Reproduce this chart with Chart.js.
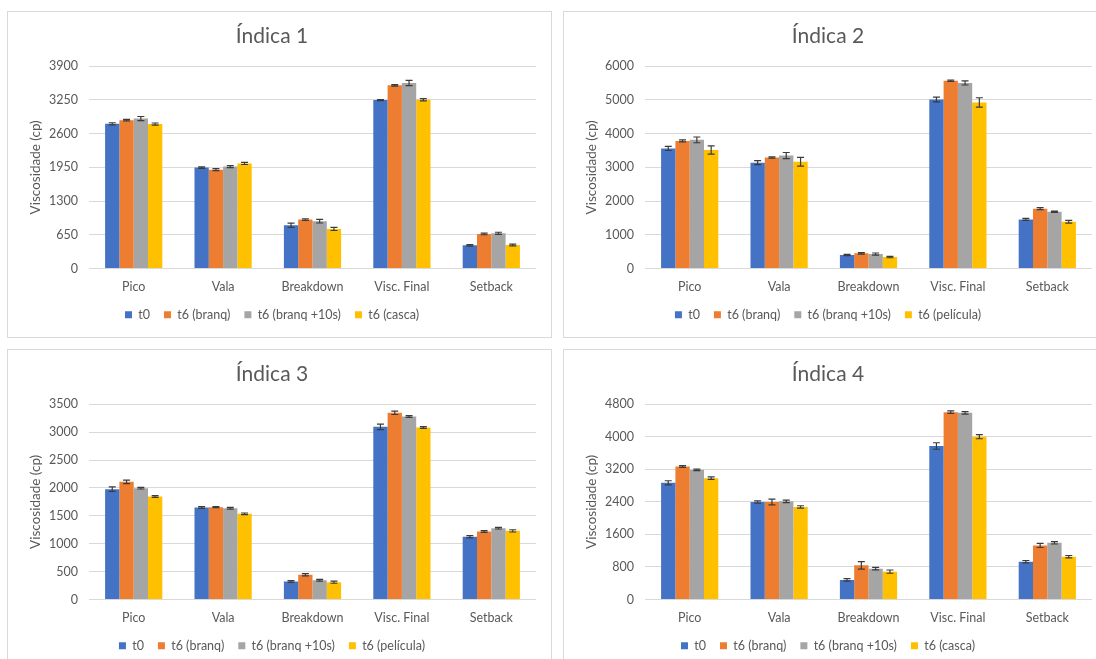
<!DOCTYPE html>
<html lang="pt">
<head>
<meta charset="utf-8">
<title>Viscosidade – Índica 1 a 4</title>
<script src="https://cdn.jsdelivr.net/npm/chart.js@4.4.1/dist/chart.umd.min.js"></script>
<style>
  html, body { margin: 0; padding: 0; background: #ffffff; overflow: hidden; }
  body { width: 1096px; height: 659px; position: relative; }
  .panel {
    position: absolute;
    box-sizing: border-box;
    width: 545px;
    border: 1px solid #d9d9d9;
    background: #ffffff;
  }
  .panel canvas { display: block; }
</style>
</head>
<body>
<div class="panel" id="p1" style="left:7px; top:11px; height:327px;"><canvas id="c1"></canvas></div>
<div class="panel" id="p2" style="left:563px; top:11px; height:327px;"><canvas id="c2"></canvas></div>
<div class="panel" id="p3" style="left:7px; top:349px; height:320px;"><canvas id="c3"></canvas></div>
<div class="panel" id="p4" style="left:563px; top:349px; height:320px;"><canvas id="c4"></canvas></div>

<script>
// Parameters of the RVA viscosity profile
const categories = ['Pico', 'Vala', 'Breakdown', 'Visc. Final', 'Setback'];

// Índica 1 (cp)
const ind1_t0     = [2790, 1945, 834, 3247, 446];
const ind1_branq  = [2860, 1905, 944, 3531, 666];
const ind1_branq10 = [2890, 1965, 912, 3577, 679];
const ind1_casca  = [2785, 2025, 763, 3253, 453];
const ind1_t0_err     = [20, 15, 40, 10, 15];
const ind1_branq_err  = [15, 20, 15, 15, 15];
const ind1_branq10_err = [40, 20, 35, 50, 20];
const ind1_casca_err  = [20, 20, 30, 20, 15];
const ind1_ticks = [0, 650, 1300, 1950, 2600, 3250, 3900];

// Índica 2 (cp)
const ind2_t0     = [3560, 3140, 399, 5013, 1455];
const ind2_branq  = [3785, 3290, 449, 5571, 1774];
const ind2_branq10 = [3815, 3350, 429, 5502, 1684];
const ind2_pelicula = [3515, 3165, 339, 4924, 1385];
const ind2_t0_err     = [60, 60, 20, 70, 30];
const ind2_branq_err  = [30, 20, 20, 20, 30];
const ind2_branq10_err = [85, 90, 30, 60, 20];
const ind2_pelicula_err = [120, 130, 20, 140, 40];
const ind2_ticks = [0, 1000, 2000, 3000, 4000, 5000, 6000];

// Índica 3 (cp)
const ind3_t0     = [1977, 1648, 322, 3094, 1123];
const ind3_branq  = [2108, 1654, 442, 3345, 1218];
const ind3_branq10 = [1995, 1636, 346, 3279, 1278];
const ind3_pelicula = [1846, 1535, 311, 3082, 1230];
const ind3_t0_err     = [40, 15, 15, 50, 20];
const ind3_branq_err  = [30, 10, 20, 30, 15];
const ind3_branq10_err = [15, 15, 15, 15, 15];
const ind3_pelicula_err = [15, 15, 20, 15, 20];
const ind3_ticks = [0, 500, 1000, 1500, 2000, 2500, 3000, 3500];

// Índica 4 (cp)
const ind4_t0     = [2869, 2396, 481, 3773, 929];
const ind4_branq  = [3268, 2396, 839, 4604, 1328];
const ind4_branq10 = [3186, 2412, 758, 4588, 1394];
const ind4_casca  = [2983, 2274, 685, 4001, 1051];
const ind4_t0_err     = [50, 30, 30, 80, 30];
const ind4_branq_err  = [20, 70, 90, 30, 50];
const ind4_branq10_err = [20, 30, 30, 30, 30];
const ind4_casca_err  = [30, 30, 40, 50, 30];
const ind4_ticks = [0, 800, 1600, 2400, 3200, 4000, 4800];

const seriesColors = ['#4472C4', '#ED7D31', '#A5A5A5', '#FFC000'];
const textColor = '#595959';
const fontFamily = 'Lato, "Open Sans", "DejaVu Sans", sans-serif';

// Draws ±error whiskers on every bar, using the y scale of the chart
const errorBarPlugin = {
  id: 'errorBars',
  afterDatasetsDraw(chart) {
    const ctx = chart.ctx;
    const y = chart.scales.y;
    ctx.save();
    ctx.strokeStyle = '#3b3b3b';
    ctx.lineWidth = 1.2;
    chart.data.datasets.forEach((ds, i) => {
      const meta = chart.getDatasetMeta(i);
      if (meta.hidden || !ds.errors) return;
      meta.data.forEach((bar, j) => {
        const v = ds.data[j], e = ds.errors[j];
        const yt = y.getPixelForValue(v + e);
        const yb = y.getPixelForValue(v - e);
        const x = bar.x, cap = 3.5;
        ctx.beginPath();
        ctx.moveTo(x, yt); ctx.lineTo(x, yb);
        ctx.moveTo(x - cap, yt); ctx.lineTo(x + cap, yt);
        ctx.moveTo(x - cap, yb); ctx.lineTo(x + cap, yb);
        ctx.stroke();
      });
    });
    ctx.restore();
  }
};

function makeChart(canvasId, panelId, title, names, values, errors, ticks) {
  const panel = document.getElementById(panelId);
  const canvas = document.getElementById(canvasId);
  canvas.width = panel.clientWidth;
  canvas.height = panel.clientHeight;
  canvas.style.width = panel.clientWidth + 'px';
  canvas.style.height = panel.clientHeight + 'px';

  const datasets = names.map((name, k) => ({
    label: name,
    data: values[k],
    errors: errors[k],
    backgroundColor: seriesColors[k],
    borderWidth: 0,
    categoryPercentage: 0.64,
    barPercentage: 1.0
  }));

  return new Chart(canvas, {
    type: 'bar',
    data: { labels: categories, datasets },
    plugins: [errorBarPlugin],
    options: {
      responsive: false,
      animation: false,
      devicePixelRatio: 1,
      layout: { padding: { left: 0, right: 15, top: 0, bottom: 6 } },
      plugins: {
        title: {
          display: true,
          text: title,
          color: textColor,
          font: { family: fontFamily, size: 21, weight: 'normal' },
          padding: { top: 12, bottom: 17 }
        },
        legend: {
          position: 'bottom',
          labels: {
            color: textColor,
            font: { family: fontFamily, size: 12.5 },
            boxWidth: 7,
            boxHeight: 7,
            padding: 14
          }
        },
        tooltip: { enabled: false }
      },
      scales: {
        x: {
          grid: { display: false, drawTicks: false },
          border: { display: false },
          ticks: { color: textColor, font: { family: fontFamily, size: 12.5 }, padding: 11 },
          afterFit(s) { s.height = 26; }
        },
        y: {
          min: ticks[0],
          max: ticks[ticks.length - 1],
          afterBuildTicks(s) { s.ticks = ticks.map(v => ({ value: v })); },
          grid: { color: '#d9d9d9', lineWidth: 1, drawTicks: false },
          border: { display: false },
          ticks: {
            color: textColor,
            font: { family: fontFamily, size: 12.5 },
            padding: 11,
            callback: v => String(v)
          },
          title: {
            display: true,
            text: 'Viscosidade (cp)',
            color: textColor,
            font: { family: fontFamily, size: 13.5 },
            padding: { top: 20, bottom: 0 }
          },
          afterFit(s) { s.width = 81; }
        }
      }
    }
  });
}

makeChart('c1', 'p1', 'Índica 1',
  ['t0', 't6 (branq)', 't6 (branq +10s)', 't6 (casca)'],
  [ind1_t0, ind1_branq, ind1_branq10, ind1_casca],
  [ind1_t0_err, ind1_branq_err, ind1_branq10_err, ind1_casca_err],
  ind1_ticks);

makeChart('c2', 'p2', 'Índica 2',
  ['t0', 't6 (branq)', 't6 (branq +10s)', 't6 (película)'],
  [ind2_t0, ind2_branq, ind2_branq10, ind2_pelicula],
  [ind2_t0_err, ind2_branq_err, ind2_branq10_err, ind2_pelicula_err],
  ind2_ticks);

makeChart('c3', 'p3', 'Índica 3',
  ['t0', 't6 (branq)', 't6 (branq +10s)', 't6 (película)'],
  [ind3_t0, ind3_branq, ind3_branq10, ind3_pelicula],
  [ind3_t0_err, ind3_branq_err, ind3_branq10_err, ind3_pelicula_err],
  ind3_ticks);

makeChart('c4', 'p4', 'Índica 4',
  ['t0', 't6 (branq)', 't6 (branq +10s)', 't6 (casca)'],
  [ind4_t0, ind4_branq, ind4_branq10, ind4_casca],
  [ind4_t0_err, ind4_branq_err, ind4_branq10_err, ind4_casca_err],
  ind4_ticks);
</script>
</body>
</html>
